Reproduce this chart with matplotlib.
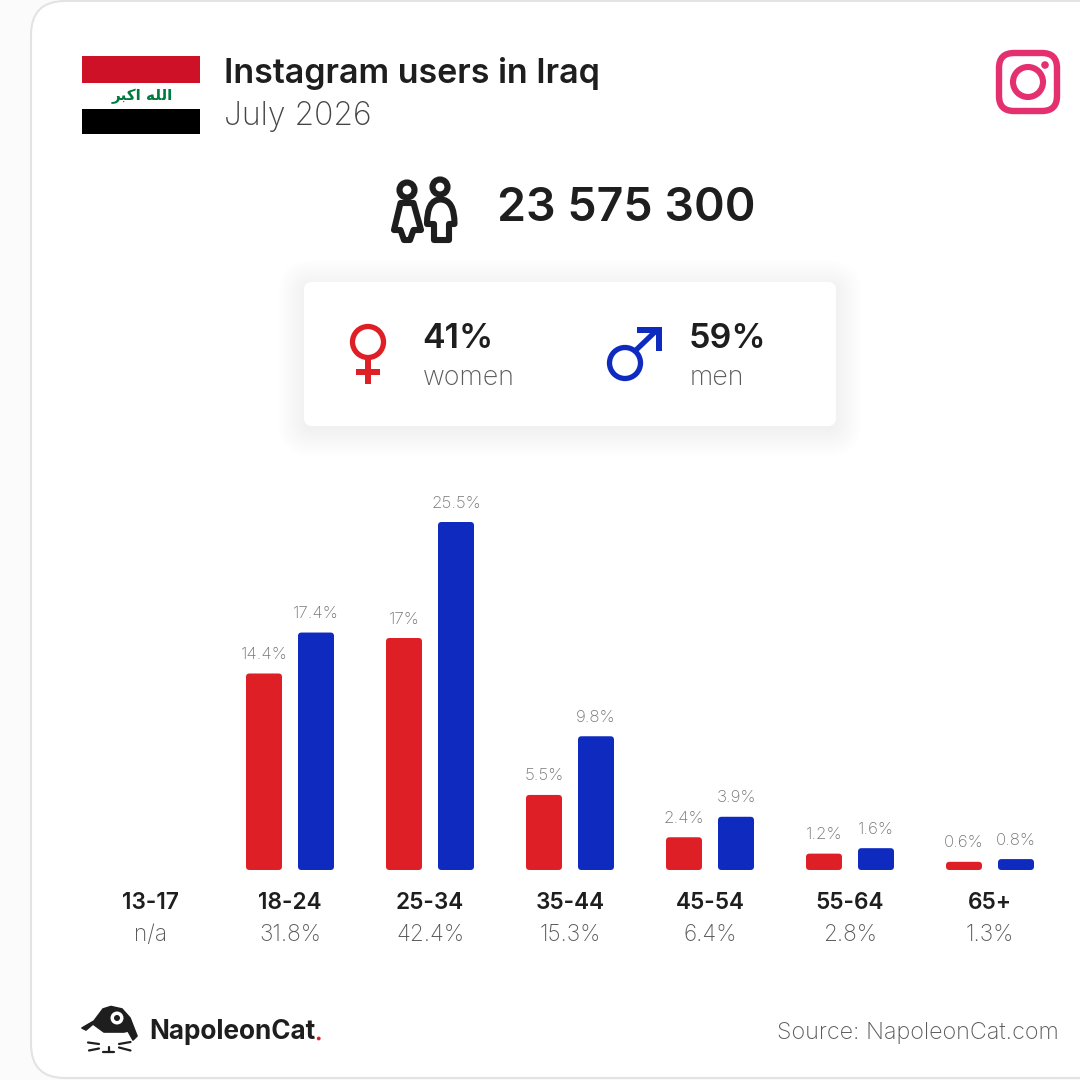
import numpy as np
import matplotlib
matplotlib.use("Agg")
import matplotlib.pyplot as plt
from matplotlib.patches import FancyBboxPatch, Circle, Rectangle, Polygon
from matplotlib.path import Path
from matplotlib.patches import PathPatch

plt.rcParams['font.family'] = ['Inter', 'DejaVu Sans']

age_groups = ["13-17", "18-24", "25-34", "35-44", "45-54", "55-64", "65+"]
age_totals = ["n/a", "31.8%", "42.4%", "15.3%", "6.4%", "2.8%", "1.3%"]
women = [None, 14.4, 17, 5.5, 2.4, 1.2, 0.6]
men = [None, 17.4, 25.5, 9.8, 3.9, 1.6, 0.8]
women_labels = ["", "14.4%", "17%", "5.5%", "2.4%", "1.2%", "0.6%"]
men_labels = ["", "17.4%", "25.5%", "9.8%", "3.9%", "1.6%", "0.8%"]

RED = "#df1f26"
BLUE = "#0f2bbf"
DARK = "#1e1e1e"
GREY = "#5a5a5a"
LABEL = "#777777"

fig = plt.figure(figsize=(10.8, 10.8), dpi=100, facecolor="white")

# pixel canvas for all the decoration, y goes down like in the picture
bg = fig.add_axes([0, 0, 1, 1], zorder=0)
bg.set_xlim(0, 1080)
bg.set_ylim(1080, 0)
bg.axis("off")

# page background and card
bg.add_patch(Rectangle((0, 0), 1080, 1080, fc="#fbfbfb", ec="none"))
bg.add_patch(FancyBboxPatch((31, 1), 1100, 1077, boxstyle="round,pad=0,rounding_size=34",
                            fc="white", ec="#e3e3e3", lw=1.5))

# soft shadow behind the gender box
for i in range(14):
    grow = 26 - i * 2
    bg.add_patch(FancyBboxPatch((304 - grow, 282 - grow + 4), 532 + 2 * grow, 144 + 2 * grow,
                                boxstyle="round,pad=0,rounding_size=%d" % (8 + grow),
                                fc="black", ec="none", alpha=0.0045))
bg.add_patch(FancyBboxPatch((304, 282), 532, 144, boxstyle="round,pad=0,rounding_size=8",
                            fc="white", ec="none"))

# flag
bg.add_patch(Rectangle((82, 56), 118, 27, fc="#ce1126", ec="none"))
bg.add_patch(Rectangle((82, 83), 118, 26, fc="white", ec="none"))
bg.add_patch(Rectangle((82, 109), 118, 25, fc="black", ec="none"))
# matplotlib has no shaping, so the takbir goes in as joined forms in visual order
bg.text(142, 96, "\ufeae\ufe92\ufedb\ufe8d \ufeea\ufee0\ufedf\ufe8d", color="#007a3d", fontsize=11,
        ha="center", va="center", family=['DejaVu Sans'], fontweight="bold")

# header
bg.text(224, 73, "Instagram users in Iraq", color=DARK, fontsize=24.5, fontweight="semibold",
        ha="left", va="center")
bg.text(224, 117, "July 2026", color="#444444", fontsize=23, fontweight="light",
        ha="left", va="center")

# instagram icon
INSTA = "#e4306f"
bg.add_patch(FancyBboxPatch((999, 53), 58, 58, boxstyle="round,pad=0,rounding_size=15",
                            fc="none", ec=INSTA, lw=4.6))
bg.add_patch(Circle((1028, 82), 15, fc="none", ec=INSTA, lw=4.4))
bg.add_patch(Circle((1045, 65), 3.8, fc=INSTA, ec="none"))

# people icon
ICON_LW = 4.4
bg.add_patch(Circle((407, 190), 7.5, fc="none", ec=DARK, lw=ICON_LW))
bg.add_patch(Circle((440, 187), 7.5, fc="none", ec=DARK, lw=ICON_LW))
bg.add_patch(Polygon([(400.5, 203), (413.5, 203), (421, 230), (413.5, 230), (410, 240),
                      (404, 240), (400.5, 230), (394, 230)],
                     closed=True, fc="none", ec=DARK, lw=ICON_LW, joinstyle="round"))
man_verts = [(434, 224), (427, 224), (427, 199.5), (440.5, 199.5), (454.5, 199.5), (454.5, 224),
             (449, 224), (449, 240), (434, 240), (434, 224)]
man_codes = [Path.MOVETO, Path.LINETO, Path.CURVE3, Path.CURVE3, Path.CURVE3, Path.CURVE3,
             Path.LINETO, Path.LINETO, Path.LINETO, Path.CLOSEPOLY]
bg.add_patch(PathPatch(Path(man_verts, man_codes), fc="none", ec=DARK, lw=ICON_LW, joinstyle="round"))

bg.text(497, 209, "23 575 300", color=DARK, fontsize=33.5, fontweight="semibold",
        ha="left", va="center")

# female symbol
bg.add_patch(Circle((368, 342), 15.5, fc="none", ec=RED, lw=3.8))
bg.add_patch(Rectangle((365.3, 358), 5.5, 26, fc=RED, ec="none"))
bg.add_patch(Rectangle((356, 369), 24, 5.7, fc=RED, ec="none"))

# male symbol
bg.add_patch(Circle((625, 363), 15.5, fc="none", ec=BLUE, lw=3.8))
bg.plot([635, 658], [351, 329], color=BLUE, lw=3.8, solid_capstyle="butt")
bg.add_patch(Polygon([(637, 327), (662, 327), (662, 351), (656, 351), (656, 333), (637, 333)],
                     closed=True, fc=BLUE, ec="none"))

bg.text(422, 339, "41%", color=DARK, fontsize=24.5, fontweight="semibold", ha="left", va="center")
bg.text(423, 378, "women", color=GREY, fontsize=19.3, fontweight="light", ha="left", va="center")
bg.text(689, 339, "59%", color=DARK, fontsize=24.5, fontweight="semibold", ha="left", va="center")
bg.text(690, 378, "men", color=GREY, fontsize=19.3, fontweight="light", ha="left", va="center")

# bars, x in category units, y in percent
PX_PER_PCT = 348 / 25.5
top_px, base_px = 470, 870
ax = fig.add_axes([80 / 1080, (1080 - base_px) / 1080, 980 / 1080, (base_px - top_px) / 1080],
                  zorder=1)
ax.patch.set_alpha(0)
ax.set_xlim(-0.5, 6.5)
ax.set_ylim(0, (base_px - top_px) / PX_PER_PCT)
ax.axis("off")

x = np.arange(len(age_groups))
bar_w = 36 / 140
offset = 26 / 140
for i in x:
    if women[i] is None:
        continue
    for val, xpos, col, lab in ((women[i], i - offset, RED, women_labels[i]),
                                (men[i], i + offset, BLUE, men_labels[i])):
        # 3px rounding built through the transform so it stays round on both scales
        rx = 3.5 / 140
        ry = min(3.5 / PX_PER_PCT, val / 2)
        left, right = xpos - bar_w / 2, xpos + bar_w / 2
        verts = [(left, ry), (left, val - ry), (left, val), (left + rx, val),
                 (right - rx, val), (right, val), (right, val - ry), (right, ry),
                 (right, 0), (right - rx, 0), (left + rx, 0), (left, 0), (left, ry)]
        codes = [Path.MOVETO, Path.LINETO, Path.CURVE3, Path.CURVE3, Path.LINETO, Path.CURVE3,
                 Path.CURVE3, Path.LINETO, Path.CURVE3, Path.CURVE3, Path.LINETO, Path.CURVE3,
                 Path.CURVE3]
        ax.add_patch(PathPatch(Path(verts, codes), fc=col, ec="none"))
        ax.annotate(lab, (xpos, val), xytext=(0, 19), textcoords="offset pixels",
                    ha="center", va="center", color=LABEL, fontsize=12.2, fontweight="light")

# category labels under the bars
for i, (grp, tot) in enumerate(zip(age_groups, age_totals)):
    ax.annotate(grp, (i, 0), xytext=(0, -33), textcoords="offset pixels", ha="center", va="center",
                color=DARK, fontsize=16.3, fontweight="semibold", annotation_clip=False)
    ax.annotate(tot, (i, 0), xytext=(0, -65), textcoords="offset pixels", ha="center", va="center",
                color=GREY, fontsize=16.3, fontweight="light", annotation_clip=False)

# footer logo
bg.add_patch(Polygon([(82, 1028), (94, 1021), (103, 1009), (111, 1006.5), (122, 1009), (130, 1018),
                      (137, 1036), (133, 1040), (128, 1031), (124, 1032), (104, 1032), (93, 1024),
                      (86, 1030)],
                     closed=True, fc=DARK, ec=DARK, lw=1.2, joinstyle="round"))
bg.add_patch(Circle((117, 1018), 6.5, fc="white", ec="none"))
bg.add_patch(Circle((117, 1018), 3, fc=DARK, ec="none"))
for xs, ys in (([88, 99], [1042.5, 1044]), ([89, 99], [1050.5, 1048.5]), ([119, 130.5], [1044, 1042]),
               ([119, 130.5], [1047.5, 1050.5]), ([103, 114], [1052, 1052]), ([108.5, 108.5], [1047, 1052])):
    bg.plot(xs, ys, color=DARK, lw=1.6, solid_capstyle="round")
wm = bg.text(149, 1032, "NapoleonCat", color=DARK, fontsize=18.8, fontweight="bold",
             ha="left", va="center")
wm_box = wm.get_window_extent(fig.canvas.get_renderer())
# bare red dot so it sits right after the wordmark
bg.add_patch(Circle((wm_box.x1 + 3.5, 1038.5), 1.9, fc=RED, ec="none"))

bg.text(1059, 1033, "Source: NapoleonCat.com", color=GREY, fontsize=16.8, fontweight="light",
        ha="right", va="center")

fig.savefig("out.png", dpi=100)
